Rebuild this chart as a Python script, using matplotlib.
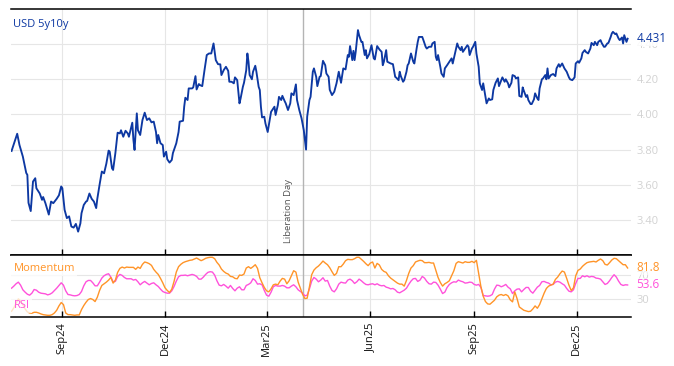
import matplotlib
matplotlib.use("Agg")
import matplotlib.pyplot as plt
import matplotlib.dates as mdates
import matplotlib.transforms as mtransforms
import pandas as pd

plt.rcParams['font.family'] = ['Open Sans', 'DejaVu Sans']

series_name = "USD 5y10y"
mom_name = "Momentum"
rsi_name = "RSI"
event_label = "Liberation Day"
event_date = "2025-04-02"

main_dates = [
"2024-07-18","2024-07-23","2024-07-25","2024-07-28","2024-07-31","2024-08-01","2024-08-02","2024-08-04","2024-08-06","2024-08-08",
"2024-08-09","2024-08-12","2024-08-14","2024-08-15","2024-08-17","2024-08-20","2024-08-22","2024-08-24","2024-08-27","2024-08-29",
"2024-08-31","2024-09-01","2024-09-03","2024-09-05","2024-09-07","2024-09-09","2024-09-11","2024-09-13","2024-09-15","2024-09-17",
"2024-09-18","2024-09-20","2024-09-22","2024-09-23","2024-09-25","2024-09-27","2024-09-29","2024-10-01","2024-10-02","2024-10-04",
"2024-10-06","2024-10-08","2024-10-10","2024-10-12","2024-10-13","2024-10-15","2024-10-16","2024-10-18","2024-10-20","2024-10-22",
"2024-10-23","2024-10-25","2024-10-27","2024-10-29","2024-10-30","2024-11-02","2024-11-03","2024-11-04","2024-11-06","2024-11-07",
"2024-11-09","2024-11-11","2024-11-13","2024-11-15","2024-11-17","2024-11-19","2024-11-21","2024-11-23","2024-11-24","2024-11-25",
"2024-11-27","2024-11-29","2024-11-30","2024-12-02","2024-12-03","2024-12-05","2024-12-07","2024-12-08","2024-12-11","2024-12-13",
"2024-12-14","2024-12-17","2024-12-18","2024-12-19","2024-12-21","2024-12-22","2024-12-25","2024-12-26","2024-12-28","2024-12-29",
"2024-12-31","2025-01-01","2025-01-03","2025-01-05","2025-01-07","2025-01-09","2025-01-11","2025-01-13","2025-01-15","2025-01-17",
"2025-01-19","2025-01-20","2025-01-22","2025-01-24","2025-01-26","2025-01-27","2025-01-29","2025-01-31","2025-02-01","2025-02-03",
"2025-02-05","2025-02-06","2025-02-08","2025-02-09","2025-02-11","2025-02-12","2025-02-13","2025-02-14","2025-02-16","2025-02-17",
"2025-02-19","2025-02-20","2025-02-22","2025-02-23","2025-02-24","2025-02-25","2025-02-27","2025-02-28","2025-03-02","2025-03-04",
"2025-03-05","2025-03-07","2025-03-08","2025-03-09","2025-03-11","2025-03-12","2025-03-14","2025-03-15","2025-03-17","2025-03-18",
"2025-03-20","2025-03-22","2025-03-23","2025-03-25","2025-03-27","2025-03-28","2025-03-30","2025-04-01","2025-04-03","2025-04-05",
"2025-04-06","2025-04-08","2025-04-09","2025-04-11","2025-04-12","2025-04-14","2025-04-15","2025-04-17","2025-04-18","2025-04-20",
"2025-04-22","2025-04-23","2025-04-25","2025-04-26","2025-04-28","2025-04-30","2025-05-02","2025-05-04","2025-05-06","2025-05-08",
"2025-05-10","2025-05-12","2025-05-13","2025-05-14","2025-05-16","2025-05-17","2025-05-18","2025-05-19","2025-05-21","2025-05-22",
"2025-05-24","2025-05-25","2025-05-27","2025-05-28","2025-05-29","2025-05-31","2025-06-02","2025-06-04","2025-06-05","2025-06-07",
"2025-06-09","2025-06-11","2025-06-12","2025-06-13","2025-06-15","2025-06-16","2025-06-19","2025-06-21","2025-06-23","2025-06-24",
"2025-06-26","2025-06-27","2025-06-28","2025-06-30","2025-07-01","2025-07-03","2025-07-04","2025-07-05","2025-07-07","2025-07-09",
"2025-07-10","2025-07-12","2025-07-13","2025-07-14","2025-07-17","2025-07-18","2025-07-20","2025-07-21","2025-07-23","2025-07-25",
"2025-07-26","2025-07-28","2025-07-29","2025-07-30","2025-07-31","2025-08-02","2025-08-03","2025-08-05","2025-08-06","2025-08-08",
"2025-08-10","2025-08-12","2025-08-13","2025-08-15","2025-08-17","2025-08-18","2025-08-20","2025-08-21","2025-08-22","2025-08-24",
"2025-08-26","2025-08-27","2025-08-28","2025-08-30","2025-08-31","2025-09-02","2025-09-03","2025-09-05","2025-09-06","2025-09-08",
"2025-09-09","2025-09-11","2025-09-12","2025-09-14","2025-09-15","2025-09-17","2025-09-18","2025-09-20","2025-09-22","2025-09-23",
"2025-09-25","2025-09-26","2025-09-28","2025-09-29","2025-10-01","2025-10-02","2025-10-04","2025-10-05","2025-10-07","2025-10-08",
"2025-10-10","2025-10-11","2025-10-13","2025-10-14","2025-10-15","2025-10-17","2025-10-18","2025-10-19","2025-10-21","2025-10-22",
"2025-10-24","2025-10-25","2025-10-27","2025-10-28","2025-10-29","2025-10-31","2025-11-01","2025-11-03","2025-11-04","2025-11-05",
"2025-11-06","2025-11-08","2025-11-10","2025-11-12","2025-11-13","2025-11-15","2025-11-16","2025-11-18","2025-11-20","2025-11-22",
"2025-11-24","2025-11-25","2025-11-27","2025-11-29","2025-11-30","2025-12-02","2025-12-03","2025-12-05","2025-12-06","2025-12-08",
"2025-12-09","2025-12-11","2025-12-13","2025-12-14","2025-12-16","2025-12-17","2025-12-19","2025-12-20","2025-12-22","2025-12-23",
"2025-12-25","2025-12-26","2025-12-28","2025-12-29","2025-12-31","2026-01-01","2026-01-02","2026-01-04","2026-01-05","2026-01-07",
"2026-01-08","2026-01-10","2026-01-11","2026-01-12","2026-01-14","2026-01-15",
]

main_values = [
3.792,3.89,3.826,3.76,3.667,3.656,3.497,3.45,3.618,3.637,
3.58,3.55,3.514,3.53,3.495,3.43,3.504,3.495,3.52,3.54,
3.59,3.58,3.457,3.41,3.42,3.362,3.356,3.377,3.333,3.38,
3.438,3.485,3.504,3.508,3.55,3.52,3.504,3.467,3.52,3.60,
3.675,3.665,3.72,3.794,3.788,3.694,3.684,3.78,3.896,3.892,
3.91,3.873,3.907,3.892,3.873,3.953,3.855,3.798,4.006,3.91,
3.883,3.968,4.01,3.968,3.978,3.955,3.959,3.90,3.836,3.883,
3.836,3.826,3.76,3.788,3.745,3.726,3.741,3.78,3.836,3.90,
3.959,3.964,4.044,4.095,4.082,4.148,4.148,4.154,4.218,4.142,
4.173,4.167,4.161,4.252,4.338,4.347,4.347,4.404,4.309,4.286,
4.285,4.224,4.252,4.271,4.248,4.186,4.186,4.177,4.211,4.195,
4.063,4.091,4.157,4.18,4.252,4.347,4.30,4.224,4.20,4.243,
4.277,4.243,4.157,4.139,4.044,3.983,3.987,3.949,3.90,3.978,
4.015,4.035,4.044,3.997,4.053,4.10,4.082,4.106,4.076,4.063,
4.025,4.063,4.12,4.11,4.171,4.082,4.025,3.978,3.91,3.80,
3.987,4.082,4.10,4.243,4.262,4.214,4.161,4.214,4.218,4.305,
4.28,4.233,4.214,4.14,4.11,4.129,4.177,4.243,4.18,4.262,
4.256,4.338,4.328,4.389,4.309,4.362,4.309,4.356,4.48,4.451,
4.413,4.413,4.338,4.366,4.319,4.343,4.394,4.319,4.313,4.389,
4.37,4.356,4.28,4.30,4.366,4.30,4.29,4.286,4.214,4.209,
4.195,4.243,4.218,4.186,4.195,4.243,4.28,4.29,4.347,4.30,
4.29,4.375,4.413,4.441,4.441,4.423,4.385,4.375,4.385,4.385,
4.404,4.413,4.328,4.309,4.338,4.271,4.233,4.214,4.262,4.28,
4.30,4.319,4.29,4.347,4.404,4.385,4.366,4.385,4.356,4.375,
4.394,4.385,4.338,4.375,4.385,4.413,4.347,4.271,4.177,4.139,
4.177,4.10,4.063,4.091,4.082,4.086,4.139,4.18,4.205,4.161,
4.195,4.211,4.186,4.20,4.177,4.154,4.18,4.224,4.218,4.205,
4.211,4.105,4.10,4.154,4.135,4.10,4.11,4.082,4.059,4.059,
4.086,4.12,4.091,4.082,4.148,4.20,4.205,4.224,4.20,4.262,
4.205,4.224,4.23,4.218,4.262,4.286,4.271,4.29,4.262,4.243,
4.211,4.20,4.195,4.211,4.29,4.303,4.294,4.319,4.35,4.366,
4.356,4.347,4.375,4.407,4.394,4.413,4.394,4.413,4.423,4.407,
4.385,4.385,4.404,4.407,4.441,4.461,4.47,4.457,4.461,4.432,
4.423,4.438,4.404,4.451,4.413,4.431,
]

# oscillators, sampled every 2 calendar days from osc_start
osc_start = "2024-07-18"
osc_freq = "2D"

momentum = [
10.0,15.6,23.3,30.6,27.2,20.6,13.9,8.9,7.2,6.7,8.3,8.3,7.2,5.6,4.4,3.9,3.3,3.3,4.4,7.2,
11.7,18.9,24.5,21.1,7.2,4.4,4.4,3.9,3.3,3.9,3.9,12.8,19.5,25.0,29.5,31.1,29.5,26.1,33.3,44.5,
52.8,55.6,58.3,61.7,66.1,56.7,61.7,74.5,81.1,83.3,81.7,83.3,82.8,82.8,82.8,79.5,83.3,81.1,87.8,91.7,
90.6,88.9,86.1,79.5,75.0,71.1,64.5,57.2,48.9,44.5,41.1,46.7,59.5,75.0,83.9,87.8,90.6,92.2,93.3,94.5,
95.0,96.7,98.3,96.1,93.9,95.6,97.8,98.9,99.5,99.5,97.2,91.1,86.7,80.0,76.1,73.3,71.7,67.8,67.2,64.5,
63.9,70.0,69.5,71.7,81.7,83.9,81.1,83.9,87.2,81.1,65.6,57.2,49.5,43.9,42.2,47.2,53.9,55.0,53.9,60.0,
64.5,63.3,55.6,60.6,68.9,77.2,75.0,58.3,47.8,37.8,31.1,31.7,50.6,70.6,78.3,82.2,85.0,88.9,93.3,90.0,
87.2,
82.2,75.6,69.5,72.8,83.9,83.9,88.3,93.9,96.1,95.6,95.6,97.2,99.5,99.5,96.1,92.8,88.9,85.6,90.0,91.7,
81.7,89.4,86.7,79.5,76.1,74.5,68.9,65.0,62.2,59.5,56.7,55.0,55.0,51.7,61.1,72.8,81.7,85.6,91.7,93.3,
94.5,93.9,90.6,90.6,91.1,90.0,90.0,78.3,66.1,57.8,51.7,55.6,57.8,60.6,68.9,77.2,89.4,92.2,91.1,90.0,
92.2,91.1,91.1,92.8,90.6,94.5,72.8,50.6,35.0,26.1,22.2,21.7,25.0,28.3,33.9,36.7,37.8,36.1,37.8,35.6,
28.9,25.6,42.2,31.1,17.2,14.4,11.7,10.6,9.5,10.0,13.9,18.9,15.0,21.1,30.6,40.0,47.8,51.7,53.3,55.0,
62.8,66.7,72.2,76.7,75.0,64.5,53.3,44.5,48.9,68.9,77.8,80.0,84.5,87.8,90.6,91.7,92.2,92.8,91.7,94.5,
96.7,93.9,87.8,86.7,90.6,95.0,97.8,97.2,93.9,90.6,87.2,87.2,81.8,
]

rsi = [
48.3,51.7,55.6,58.3,53.3,45.6,41.7,38.3,36.7,40.0,46.1,45.0,41.7,40.0,39.4,38.9,37.2,38.3,40.6,44.5,
48.3,52.8,57.2,53.3,43.9,37.8,37.2,36.1,35.6,36.1,37.8,42.8,52.2,58.9,61.1,61.1,57.2,52.2,52.2,58.3,
65.0,68.9,71.1,72.2,66.7,58.9,59.5,67.8,71.1,69.5,66.1,63.9,63.9,63.9,61.7,62.8,58.9,53.9,57.2,59.5,
56.7,53.9,56.1,57.2,53.9,51.1,46.7,42.8,41.1,40.0,40.0,43.9,51.1,60.0,67.2,69.5,69.5,70.0,68.9,70.0,
71.1,70.0,67.8,63.3,63.3,66.7,71.1,74.5,75.6,75.0,70.0,60.6,53.3,52.2,54.5,51.7,48.3,52.8,47.8,43.9,
48.3,50.6,45.6,45.6,52.8,54.5,57.2,63.9,61.1,55.0,55.6,53.9,44.5,36.7,35.0,41.7,50.6,52.8,51.7,51.7,
52.8,51.7,48.9,48.9,51.7,53.9,50.6,45.6,42.8,40.0,35.6,36.7,47.2,60.0,66.1,63.3,58.9,61.7,65.6,60.0,
61.1,
51.7,44.5,42.2,47.2,55.0,58.3,57.2,56.7,61.7,63.3,60.6,56.1,58.9,63.3,60.6,57.2,54.5,53.9,55.0,55.6,
53.9,55.6,53.3,52.2,52.8,50.0,48.9,47.2,47.8,45.6,41.7,40.6,42.8,45.0,48.3,54.5,60.0,63.9,64.5,59.5,
61.7,67.8,65.0,59.5,55.6,55.0,58.3,57.8,53.3,46.7,39.4,41.7,49.5,54.5,57.2,58.9,58.3,61.7,60.0,58.9,
56.7,57.2,58.3,57.8,54.5,53.3,54.5,49.5,36.1,35.6,35.0,35.6,37.8,46.7,53.3,52.8,50.6,52.2,54.5,50.0,
47.2,39.4,43.9,46.7,47.2,42.2,46.1,49.5,49.5,43.3,40.0,45.0,50.0,52.8,58.9,59.5,57.8,56.7,53.9,54.5,
58.3,59.5,58.3,55.6,53.3,47.8,43.3,42.2,45.6,56.1,64.5,64.5,68.9,67.2,68.9,66.7,67.8,67.2,65.0,64.5,
63.3,58.9,54.5,56.1,60.6,66.1,70.6,66.7,60.0,54.5,52.8,53.9,53.6,
]

main_yticks = [3.40, 3.60, 3.80, 4.00, 4.20, 4.40]
osc_yticks = [30, 70]

BLUE = "#0d38a2"
ORANGE = "#ff9428"
MAGENTA = "#ff52db"
GRID = "#e6e6e6"
TICKGREY = "#d2d2d2"

W, H = 674, 366
fig = plt.figure(figsize=(W / 100, H / 100), dpi=100)
L, R = 11 / W, 631 / W
ax = fig.add_axes([L, 1 - 255 / H, R - L, (255 - 9) / H])
ax2 = fig.add_axes([L, 1 - 317 / H, R - L, (317 - 255) / H], sharex=ax)

mdt = pd.to_datetime(main_dates)
odt = pd.date_range(osc_start, periods=len(momentum), freq=osc_freq)
rdt = pd.date_range(osc_start, periods=len(rsi), freq=osc_freq)
ev = pd.Timestamp(event_date)
ev_num = mdates.date2num(ev)

ax.plot(mdt, main_values, color=BLUE, lw=1.35, zorder=3)
ax2.plot(rdt, rsi, color=MAGENTA, lw=1.0, zorder=3)
ax2.plot(odt, momentum, color=ORANGE, lw=1.0, zorder=3)

for a in (ax, ax2):
    a.axvline(ev_num, color="#b4b4b4", lw=1.0, zorder=2)
    for s in ("left", "right"):
        a.spines[s].set_visible(False)
    for s in ("top", "bottom"):
        a.spines[s].set_color("black")
        a.spines[s].set_linewidth(1.1)
    a.grid(True, color=GRID, lw=0.8, zorder=0)
    a.set_axisbelow(True)
    a.yaxis.tick_right()
    a.tick_params(axis="y", length=0, pad=4, labelsize=8, labelcolor=TICKGREY)
    a.tick_params(axis="x", direction="in", length=4.5, width=1, color="black")

ax.set_xlim(pd.Timestamp("2024-07-17 12:00"), pd.Timestamp("2026-01-18"))
ax.set_ylim(3.2, 4.6)
ax.set_yticks(main_yticks)
ax.set_yticklabels([f"{v:.2f}" for v in main_yticks])
ax2.set_ylim(0.5, 103.3)
ax2.set_yticks(osc_yticks)
ax2.set_yticklabels([str(v) for v in osc_yticks])

ax2.xaxis.set_major_locator(mdates.MonthLocator(bymonth=[3, 6, 9, 12]))
ax2.xaxis.set_major_formatter(mdates.DateFormatter("%b%y"))
plt.setp(ax.get_xticklabels(), visible=False)
ax2.tick_params(axis="x", labelsize=8, labelcolor="#111111", pad=4)
for lbl in ax2.get_xticklabels():
    lbl.set_rotation(90)
    lbl.set_ha("center")
    lbl.set_va("top")

# left labels
ax.text(0.004, 0.935, series_name, transform=ax.transAxes, color=BLUE,
        fontsize=8, va="center", ha="left")
box = dict(facecolor="white", edgecolor="none", alpha=0.75, pad=1.5)
ax2.text(0.004, 0.79, mom_name, transform=ax2.transAxes, color=ORANGE,
         fontsize=8, va="center", ha="left", bbox=box, zorder=4)
ax2.text(0.004, 0.18, rsi_name, transform=ax2.transAxes, color=MAGENTA,
         fontsize=8, va="center", ha="left", bbox=box, zorder=4)

# last value labels
lab_box = dict(facecolor="white", edgecolor="none", alpha=0.85, pad=0.6)
ax.annotate(f"{main_values[-1]:.3f}", xy=(1, main_values[-1]),
            xycoords=("axes fraction", "data"), xytext=(4, 0),
            textcoords="offset points", va="center", ha="left",
            color=BLUE, fontsize=8.5, bbox=lab_box, annotation_clip=False, zorder=5)
ax2.annotate(f"{momentum[-1]:.1f}", xy=(1, momentum[-1]),
             xycoords=("axes fraction", "data"), xytext=(4, 0),
             textcoords="offset points", va="center", ha="left",
             color=ORANGE, fontsize=8.5, bbox=dict(facecolor="white", edgecolor="none", alpha=0.6, pad=0.3),
             annotation_clip=False, zorder=5)
ax2.annotate(f"{rsi[-1]:.1f}", xy=(1, rsi[-1]),
             xycoords=("axes fraction", "data"), xytext=(4, 0),
             textcoords="offset points", va="center", ha="left",
             color=MAGENTA, fontsize=8.5, bbox=dict(facecolor="white", edgecolor="none", alpha=0.6, pad=0.3),
             annotation_clip=False, zorder=5)

# event label
trans = mtransforms.blended_transform_factory(ax.transData, ax.transAxes)
ax.annotate(event_label, xy=(ev_num, 0.05), xycoords=trans, xytext=(-10, 0),
            textcoords="offset points", rotation=90, ha="center", va="bottom",
            fontsize=6.8, color="#555555")

fig.savefig("out.png", dpi=100)
